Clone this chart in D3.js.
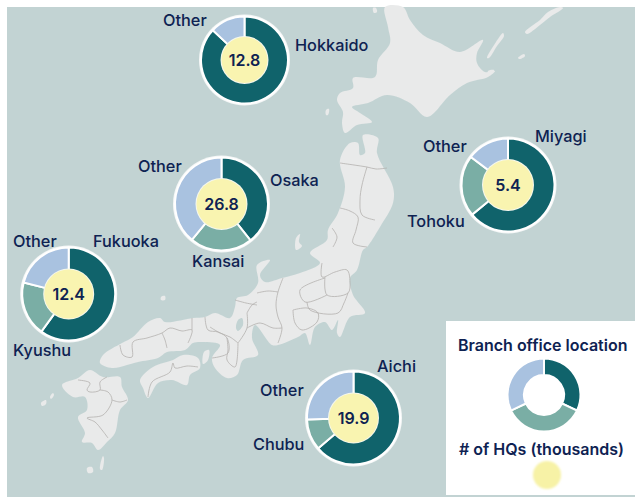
<!DOCTYPE html>
<html><head><meta charset="utf-8">
<script src="https://cdn.jsdelivr.net/npm/d3@7"></script>
<style>html,body{margin:0;padding:0;background:#fff}svg{display:block}text{font-family:Inter,"Noto Sans",sans-serif;font-weight:500;fill:#0e2252}</style>
</head><body><svg id="c" width="635" height="497"></svg>
<script>
// ---- data ----
const mainLabels   = ["Hokkaido","Osaka","Miyagi","Fukuoka","Aichi"];
const secondLabels = ["","Kansai","Tohoku","Kyushu","Chubu"];
const otherLabels  = ["Other","Other","Other","Other","Other"];
const mainShare    = [0.87,0.393,0.64,0.60,0.637];
const secondShare  = [0,0.217,0.213,0.19,0.108];
const otherShare   = [0.13,0.39,0.147,0.21,0.255];
const hqThousands  = ["12.8","26.8","5.4","12.4","19.9"];
const legendShare  = [0.32,0.36,0.32];
const legendTitles = ["Branch office location","# of HQs (thousands)"];

// ---- layout (not data) ----
const W=635,H=497;
const centers=[[244.5,60],[221.5,204],[508,185],[68.7,294],[353.5,418]];
const outerR=[43.5,46.5,46.5,46.5,46.5];
const holeR=[23,25,25,24.5,24.5];
const mainLabelPos=[[295,51],[270,186],[535,142],[93,247],[377,372]];
const secondLabelPos=[null,[192,267],[407,227],[13,356],[253,450]];
const otherLabelPos=[[163,26],[138,172],[423,152],[13,247],[260,396]];
const sliceColors=["#10636b","#7aaea5","#a9c2e0"];
const seaColor="#c2d3d3",landColor="#e9eaea",borderColor="#b4b1af",holeColor="#f9f4b0";

// ---- decorative base map outlines (picture space) ----
const landShapes=[
 [[385,7],[403,7],[410,20],[423,35],[440,43],[460,52],[483,40],[477,53],[477,63],[485,72],[495,71],[488,77],[467,83],[450,95],[427,117],[410,103],[387,95],[368,103],[352,107],[360,113],[372,122],[357,125],[345,133],[342,123],[343,112],[337,100],[340,93],[353,88],[353,78],[375,77],[378,60],[390,43],[388,27]],
 [[350,143],[358,143],[360,155],[365,153],[363,135],[378,138],[377,153],[393,187],[393,203],[380,227],[367,247],[363,250],[357,270],[350,278],[353,295],[365,313],[350,317],[340,337],[337,333],[338,320],[332,330],[325,322],[315,327],[310,345],[305,333],[298,337],[278,345],[272,345],[255,325],[252,338],[258,355],[243,360],[237,375],[227,378],[215,368],[212,358],[220,345],[203,342],[193,343],[185,350],[167,352],[158,358],[138,362],[127,365],[112,368],[100,363],[103,355],[122,343],[133,337],[148,322],[160,318],[165,322],[193,318],[205,317],[215,313],[230,318],[235,307],[237,298],[248,295],[258,283],[257,265],[270,260],[260,275],[265,282],[282,278],[300,273],[320,263],[310,253],[327,240],[328,230],[338,213],[345,187],[340,160]],
 [[140,380],[153,367],[173,360],[183,355],[198,358],[200,368],[190,375],[187,385],[172,380],[158,383],[148,398],[143,388]],
 [[62,385],[78,378],[90,370],[103,377],[120,377],[122,387],[128,400],[120,410],[115,433],[107,442],[98,450],[92,443],[82,442],[85,433],[78,417],[87,410],[85,397],[73,397]],
 [[204,352],[209,350],[208,360],[203,364]],
 [[87,468],[92,467],[93,472],[88,473]],
 [[103,456],[104,458],[102,470],[100,469]],
 [[41,403],[46,400],[46,404],[42,406]],
 [[50,397],[53,393],[54,395],[51,399]],
 [[161,297],[165,296],[165,300],[161,300]],
 [[296,238],[300,234],[299,242],[302,246],[296,250]],
 [[373,8],[376,8],[377,12],[374,13]],
 [[326,110],[329,109],[328,115],[326,115]],
 [[487,58],[496,42],[503,33],[504,36],[497,46],[489,58]],
 [[525,32],[540,20],[548,12],[560,7],[563,8],[550,17],[540,25],[527,34]],
 [[518,58],[524,54],[525,56],[520,59]],
 [[488,71],[494,70],[493,72],[488,73]]
];
const waterShapes=[[[238,320],[242,318],[243,325],[238,331],[236,328]]];
const borderLines=[
 [[340,163],[354,165],[367,167],[376,169],[387,168]],[[367,167],[362,185],[360,200],[362,215],[375,220]],[[340,208],[350,211],[358,217],[356,230],[353,243],[367,247]],[[332,228],[337,237],[333,247]],
 [[322,263],[322,277],[335,272],[347,270],[350,282],[348,293],[327,295],[325,277]],[[325,278],[300,290],[305,302],[327,295]],[[307,302],[310,310],[338,313],[344,303],[348,293]],
 [[283,278],[278,292],[276,305],[278,317],[282,328],[278,343]],[[257,293],[268,291],[278,292]],[[247,313],[252,305],[257,302]],[[247,328],[260,323],[273,328],[282,328]],[[247,313],[247,328],[238,343]],
 [[293,310],[295,323],[302,330],[317,322],[318,313],[307,308],[293,310]],[[235,300],[246,303],[257,305]],
 [[238,343],[230,337],[220,333],[210,327]],[[227,338],[228,350],[227,360],[235,367],[238,343]],
 [[120,345],[123,355],[132,357],[133,342],[147,338],[162,333],[170,328],[182,331],[192,330],[188,343]],[[162,333],[165,340],[167,348]],[[192,318],[192,330]],
 [[205,317],[208,330],[218,332],[227,338],[228,353],[212,358]],
 [[148,397],[152,382],[170,372],[173,363],[175,368],[187,366],[198,367]],
 [[78,380],[90,383],[87,390],[90,392],[100,390],[100,382],[107,377]],[[100,390],[108,392],[112,400],[103,415],[87,418],[95,422],[102,430],[108,438]],[[112,400],[120,402],[127,400]]
];

// ---- drawing ----
const svg=d3.select("#c");
const px=d3.scaleIdentity(), py=d3.scaleIdentity();
const closed=d3.line().x(d=>px(d[0])).y(d=>py(d[1])).curve(d3.curveCatmullRomClosed.alpha(.5));
const open=d3.line().x(d=>px(d[0])).y(d=>py(d[1])).curve(d3.curveCatmullRom.alpha(.5));
const defs=svg.append("defs");
defs.append("filter").attr("id","soft").append("feGaussianBlur").attr("stdDeviation",0.7);
defs.append("filter").attr("id","soft2").append("feGaussianBlur").attr("stdDeviation",0.35);
defs.append("filter").attr("id","blurDot").append("feGaussianBlur").attr("stdDeviation",1);

svg.append("rect").attr("width",W).attr("height",H).attr("fill","#fff");
svg.append("rect").attr("x",7).attr("y",7).attr("width",W-7).attr("height",H-7).attr("fill",seaColor);
const map=svg.append("g");
map.append("g").attr("filter","url(#soft)").selectAll("path").data(landShapes).join("path").attr("d",closed).attr("fill",landColor);
map.append("g").attr("filter","url(#soft)").selectAll("path").data(waterShapes).join("path").attr("d",closed).attr("fill",seaColor);
map.append("g").attr("filter","url(#soft2)").selectAll("path").data(borderLines).join("path").attr("d",open).attr("fill","none").attr("stroke",borderColor).attr("stroke-width",.8);

const pie=d3.pie().sort(null).value(d=>d);
function donut(g,shares,ro,ri){
  const arc=d3.arc().innerRadius(ri).outerRadius(ro);
  g.selectAll("path.s").data(pie(shares)).join("path").attr("class","s")
   .attr("d",arc).attr("fill",(d,i)=>sliceColors[i]).attr("stroke","#fff").attr("stroke-width",d=>d.value>0?2:0);
}
mainShare.forEach((m,i)=>{
  const g=svg.append("g").attr("transform",`translate(${centers[i]})`);
  g.append("circle").attr("r",outerR[i]+2).attr("fill","#f5f7f7");
  donut(g,[m,secondShare[i],otherShare[i]],outerR[i],holeR[i]-2);
  g.append("circle").attr("r",holeR[i]+1).attr("fill","#f5f7ee");
  g.append("circle").attr("r",holeR[i]).attr("fill",holeColor);
  g.append("text").attr("text-anchor","middle").attr("dy","0.36em").attr("font-size",16).style("font-weight",600).text(hqThousands[i]);
});
function label(t,p){ if(p&&t) svg.append("text").attr("x",p[0]).attr("y",p[1]).attr("font-size",16.3).text(t); }
mainLabels.forEach((t,i)=>label(t,mainLabelPos[i]));
secondLabels.forEach((t,i)=>label(t,secondLabelPos[i]));
otherLabels.forEach((t,i)=>label(t,otherLabelPos[i]));

// legend
svg.append("rect").attr("x",446).attr("y",321).attr("width",189).attr("height",174).attr("fill","#fff");
svg.append("text").attr("x",458).attr("y",351).attr("font-size",16).style("font-weight",600).text(legendTitles[0]);
svg.append("text").attr("x",459).attr("y",455).attr("font-size",16).style("font-weight",600).text(legendTitles[1]);
donut(svg.append("g").attr("transform","translate(544,395)"),legendShare,36.5,20);
svg.append("circle").attr("cx",547).attr("cy",475).attr("r",14).attr("fill","#f7f2a6").attr("filter","url(#blurDot)");
</script></body></html>
